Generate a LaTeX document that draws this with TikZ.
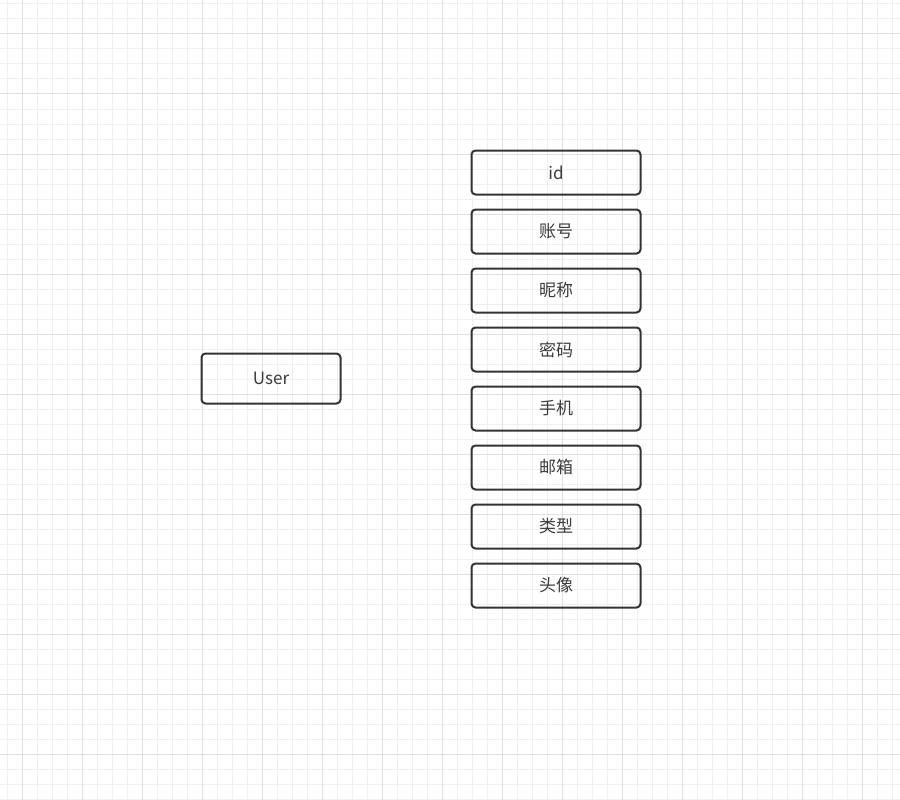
\documentclass[tikz,border=0pt]{standalone}
\usepackage{fontspec}
\setmainfont{Noto Sans CJK SC}
\definecolor{boxgray}{HTML}{333333}
\definecolor{textgray}{HTML}{3C3C3C}
\definecolor{minorgray}{HTML}{EFEFEF}
\definecolor{majorgray}{HTML}{E0E0E0}
\begin{document}
\begin{tikzpicture}[x=1pt, y=-1pt,
	minorline/.style={draw=minorgray, line width=1pt},
	majorline/.style={draw=majorgray, line width=1pt},
	entity/.style={draw=boxgray, line width=2pt, rounded corners=4pt, inner sep=0pt, text=textgray, font=\fontsize{17}{20}\selectfont},
	field/.style={entity, minimum width=169pt, minimum height=44pt}]
	\useasboundingbox[fill=white] (0,0) rectangle (900,800);
	% background grid
	\foreach \x in {7,22,...,897} \draw[minorline] (\x,0) -- (\x,800);
	\foreach \y in {4,19,...,799} \draw[minorline] (0,\y) -- (900,\y);
	\foreach \x in {22,82,...,862} \draw[majorline] (\x,0) -- (\x,800);
	\foreach \y in {34,94,...,754} \draw[majorline] (0,\y) -- (900,\y);
	% entity and its fields
	\node[entity, minimum width=139pt, minimum height=50pt] (user) at (271,378.5) {User};
	\foreach \name [count=\i from 0] in {id,账号,昵称,密码,手机,邮箱,类型,头像}
		\node[field] (field\i) at (556,172.5+59*\i) {\name};
\end{tikzpicture}
\end{document}
